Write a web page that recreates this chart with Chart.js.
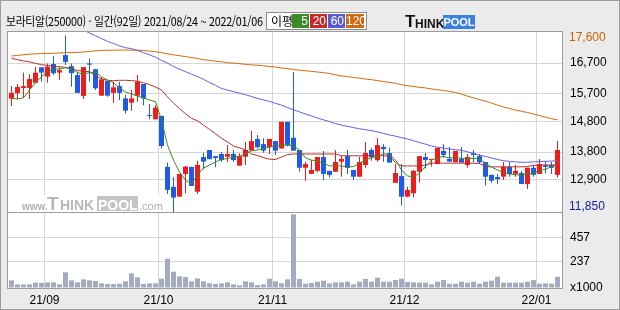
<!DOCTYPE html>
<html lang="ko">
<head>
<meta charset="utf-8">
<title>보라티알 일간 차트</title>
<script src="https://cdn.jsdelivr.net/npm/chart.js@4.4.1/dist/chart.umd.min.js"></script>
<style>
  html, body { margin: 0; padding: 0; }
  body { width: 620px; height: 310px; overflow: hidden; background: #ebebeb; }
  #wrap { position: relative; width: 620px; height: 310px; font-family: "Liberation Sans", Arial, sans-serif; }
  #outer { position: absolute; left: 0; top: 0; width: 620px; height: 310px; box-sizing: border-box; border: 1px solid #9c9c9c; }
  canvas { position: absolute; left: 0; top: 0; }
  #title { position: absolute; left: 6px; top: 14px; font: 12px "Noto Sans CJK KR", sans-serif; line-height: 14px; color: #000; white-space: nowrap; letter-spacing: -0.3px; transform: scaleX(0.9); transform-origin: 0 0; }
  #maLegend { position: absolute; left: 266px; top: 12px; width: 101px; height: 18px; box-sizing: border-box; border: 1px solid #8c8c8c; background: #fff; }
  #maLegend .lbl { position: absolute; left: 4px; top: 1px; font: 12px "Noto Sans CJK KR", sans-serif; line-height: 14px; }
  #maLegend .ma { position: absolute; top: 1px; height: 14px; width: 17px; color: #fff; font: 12px "Liberation Sans", Arial, sans-serif; line-height: 14px; text-align: right; box-sizing: border-box; padding-right: 1px; }
  #logo { position: absolute; left: 405px; top: 14px; height: 16px; width: 74px; }
  #logo .t { position: absolute; left: 0; top: 0; font: bold 17px "Liberation Sans", Arial, sans-serif; line-height: 16px; color: #111; }
  #logo .hink { position: absolute; left: 10px; top: 4px; font: bold 12px "Liberation Sans", Arial, sans-serif; line-height: 12px; color: #111; }
  #logo .pool { position: absolute; left: 38px; top: 1px; width: 32px; height: 14px; background: #3b82e0; color: #fff; font: bold 11px "Liberation Sans", Arial, sans-serif; line-height: 15px; text-align: center; }
</style>
</head>
<body>
<div id="wrap">
  <div id="outer"></div>
  <canvas id="priceChart" width="620" height="310"></canvas>
  <canvas id="volumeChart" width="620" height="310"></canvas>
  <div id="title">보라티알(250000) · 일간(92일) 2021/08/24 ~ 2022/01/06</div>
  <div id="maLegend"><span class="lbl">이평</span></div>
  <div id="logo"><span class="t">T</span><span class="hink">HINK</span><span class="pool">POOL</span></div>
</div>
<script>
"use strict";

/**************************************************************
 * Data (daily candles, 2021/08/24 ~ 2022/01/06)
 **************************************************************/
const dates = [
  "21/08/24", "21/08/25", "21/08/26", "21/08/27", "21/08/30", "21/08/31",
  "21/09/01", "21/09/02", "21/09/03", "21/09/06", "21/09/07", "21/09/08", "21/09/09", "21/09/10",
  "21/09/13", "21/09/14", "21/09/15", "21/09/16", "21/09/17", "21/09/23", "21/09/24",
  "21/09/27", "21/09/28", "21/09/29", "21/09/30",
  "21/10/01", "21/10/05", "21/10/06", "21/10/07", "21/10/08", "21/10/12", "21/10/13", "21/10/14",
  "21/10/15", "21/10/18", "21/10/19", "21/10/20", "21/10/21", "21/10/22", "21/10/25", "21/10/26",
  "21/10/27", "21/10/28", "21/10/29",
  "21/11/01", "21/11/02", "21/11/03", "21/11/04", "21/11/05", "21/11/08", "21/11/09", "21/11/10",
  "21/11/11", "21/11/12", "21/11/15", "21/11/16", "21/11/17", "21/11/18", "21/11/19", "21/11/22",
  "21/11/23", "21/11/24", "21/11/25", "21/11/26", "21/11/29", "21/11/30",
  "21/12/01", "21/12/02", "21/12/03", "21/12/06", "21/12/07", "21/12/08", "21/12/09", "21/12/10",
  "21/12/13", "21/12/14", "21/12/15", "21/12/16", "21/12/17", "21/12/20", "21/12/21", "21/12/22",
  "21/12/23", "21/12/24", "21/12/27", "21/12/28", "21/12/29", "21/12/30",
  "22/01/03", "22/01/04", "22/01/05", "22/01/06",
];

const openPrices = [
  15540, 15720, 15890, 15890, 16060, 16560, 16260, 16670, 16390, 16960,
  16600, 16310, 15630, 16690, 16500, 15640, 16120, 15730, 15950, 15550,
  15410, 15640, 16020, 15000, 14870, 14980, 13320, 12670, 12350, 13090,
  13320, 12510, 13640, 13870, 13670, 13740, 13650, 13740, 13360, 13650,
  13850, 14230, 14060, 13960, 14160, 13920, 14790, 14270, 13870, 13290,
  13090, 13190, 13640, 13190, 13160, 13490, 13670, 13220, 13000, 13380,
  13870, 13540, 13970, 13770, 12800, 13020, 12350, 12460, 13160, 13640,
  13540, 13410, 13840, 13580, 13470, 13580, 13380, 13770, 13670, 13480,
  13060, 12990, 13000, 13320, 13090, 13120, 12760, 13290, 13090, 13380,
  13380, 13060,
];

const highPrices = [
  15950, 16020, 16390, 16340, 16580, 16580, 16690, 16930, 16580, 17600,
  16690, 16420, 16570, 16850, 16500, 16240, 16120, 16090, 16090, 15660,
  15820, 16310, 16020, 15370, 15330, 14980, 13460, 12990, 13090, 13350,
  13320, 13520, 13780, 13870, 13670, 13810, 14030, 13870, 13760, 14140,
  14500, 14360, 14250, 14230, 14160, 14790, 14790, 16420, 13870, 13490,
  13540, 13640, 13840, 13190, 13870, 13670, 13870, 13220, 13650, 14130,
  13940, 14260, 14060, 13940, 13410, 13410, 12670, 13220, 13670, 13770,
  13580, 13940, 14060, 13970, 13840, 13970, 13740, 13870, 13740, 13480,
  13060, 13090, 13480, 13480, 13380, 13190, 13290, 13380, 13580, 13510,
  13480, 14160,
];

const lowPrices = [
  15300, 15520, 15570, 15530, 16040, 16090, 16060, 16310, 16150, 16640,
  15930, 15730, 15530, 16090, 15820, 15640, 15600, 15410, 15500, 15060,
  15150, 15440, 15330, 14870, 14870, 13920, 12440, 11850, 12350, 12460,
  12700, 12440, 13240, 13570, 13310, 13490, 13490, 13490, 13360, 13380,
  13850, 13920, 13780, 13740, 13710, 13920, 13980, 13850, 13160, 12870,
  13090, 13140, 12890, 12970, 13160, 13000, 13090, 12890, 13000, 13290,
  13520, 13490, 13490, 13460, 12800, 12060, 12330, 12330, 12800, 13270,
  13330, 13410, 13620, 13490, 13470, 13460, 13290, 13460, 13410, 12710,
  12800, 12760, 12890, 13000, 13000, 12760, 12600, 13000, 13090, 13110,
  13090, 12970,
];

const closePrices = [
  15730, 15920, 15950, 16180, 16390, 16390, 16580, 16370, 16470, 16740,
  16370, 15730, 16570, 16650, 15880, 16170, 15640, 15910, 15730, 15150,
  15550, 16090, 15550, 14980, 15250, 14000, 12570, 12320, 13090, 13330,
  12700, 13380, 13490, 13570, 13610, 13540, 13740, 13540, 13670, 13870,
  14160, 13960, 13850, 14230, 13850, 14790, 14030, 13850, 13290, 13410,
  13220, 13640, 13090, 13060, 13480, 13580, 13290, 13000, 13480, 13770,
  13630, 14030, 13900, 13460, 13120, 12350, 12570, 13190, 13670, 13540,
  13580, 13940, 13710, 13490, 13840, 13460, 13640, 13710, 13470, 13000,
  12870, 12920, 13320, 13090, 13190, 12760, 13290, 13060, 13410, 13320,
  13290, 13870,
];

// volume, x1000 shares
const volumes = [
  69, 33, 33, 33, 48, 45, 51, 51, 33, 141,
  69, 51, 78, 69, 63, 42, 36, 36, 39, 60,
  132, 96, 36, 42, 42, 84, 264, 147, 105, 99,
  60, 87, 60, 42, 36, 42, 51, 33, 24, 60,
  51, 27, 33, 84, 60, 42, 78, 664, 81, 39,
  45, 57, 66, 42, 51, 51, 57, 33, 57, 81,
  57, 93, 57, 57, 72, 84, 54, 51, 48, 48,
  33, 57, 72, 39, 39, 57, 48, 57, 39, 57,
  66, 102, 48, 48, 48, 48, 57, 72, 39, 42,
  39, 102,
];

const ma5 = [
  15550, 15530, 15570, 15820, 16060, 16260, 16420, 16500, 16510, 16550,
  16500, 16390, 16340, 16390, 16410, 16250, 16150, 16060, 15890, 15760,
  15690, 15630, 15560, 15500, 15440, 14850, 14030, 13540, 13150, 12890,
  12760, 13060, 13280, 13380, 13480, 13560, 13590, 13640, 13670, 13740,
  13840, 13870, 13920, 13970, 14000, 14020, 14030, 14000, 13870, 13610,
  13540, 13510, 13450, 13350, 13360, 13350, 13310, 13330, 13440, 13540,
  13620, 13670, 13740, 13740, 13540, 13220, 13020, 13000, 13110, 13330,
  13540, 13620, 13660, 13610, 13620, 13600, 13580, 13600, 13570, 13440,
  13310, 13220, 13130, 13090, 13060, 13060, 13090, 13130, 13200, 13240,
  13330, 13440,
];

const ma20 = [
  16860, 16810, 16770, 16740, 16690, 16650, 16620, 16600, 16580, 16560,
  16520, 16460, 16430, 16420, 16300, 16180, 16140, 16125, 16140, 16140,
  16130, 16110, 16060, 16000, 15920, 15820, 15600, 15400, 15220, 15050,
  14900, 14820, 14680, 14540, 14400, 14250, 14130, 14000, 13940, 13870,
  13740, 13690, 13620, 13570, 13560, 13640, 13720, 13740, 13740, 13740,
  13740, 13740, 13740, 13740, 13740, 13680, 13680, 13680, 13680, 13680,
  13680, 13680, 13680, 13670, 13460, 13350, 13350, 13350, 13350, 13380,
  13440, 13450, 13440, 13440, 13440, 13440, 13440, 13440, 13430, 13330,
  13320, 13320, 13320, 13320, 13320, 13320, 13330, 13370, 13380, 13380,
  13380, 13380,
];

// above the top of the panel before 21/09/09
const ma60 = [
  null, null, null, null, null, null, null, null, null, null,
  null, null, 17770, 17680, 17590, 17500, 17410, 17340, 17260, 17200,
  17170, 17110, 17040, 16970, 16890, 16790, 16700, 16590, 16500, 16420,
  16340, 16260, 16170, 16070, 15980, 15870, 15820, 15770, 15720, 15670,
  15610, 15550, 15500, 15450, 15390, 15330, 15250, 15180, 15110, 15040,
  14980, 14910, 14850, 14800, 14730, 14680, 14640, 14600, 14560, 14530,
  14500, 14460, 14410, 14360, 14320, 14270, 14230, 14170, 14110, 14060,
  14000, 13960, 13930, 13900, 13880, 13860, 13810, 13760, 13700, 13660,
  13610, 13560, 13520, 13500, 13480, 13470, 13470, 13480, 13490, 13500,
  13510, 13520,
];

const ma120 = [
  16930, 16950, 16970, 16990, 17000, 17010, 17015, 17020, 17030, 17040,
  17045, 17050, 17060, 17080, 17100, 17110, 17120, 17120, 17125, 17125,
  17120, 17120, 17110, 17090, 17070, 17040, 17000, 16970, 16940, 16910,
  16880, 16850, 16810, 16790, 16760, 16740, 16710, 16700, 16680, 16660,
  16640, 16630, 16610, 16590, 16570, 16540, 16520, 16490, 16470, 16450,
  16430, 16410, 16390, 16360, 16320, 16280, 16260, 16230, 16210, 16180,
  16160, 16130, 16100, 16070, 16040, 16000, 15960, 15940, 15910, 15890,
  15860, 15830, 15810, 15780, 15740, 15690, 15620, 15570, 15510, 15460,
  15400, 15330, 15270, 15220, 15170, 15130, 15090, 15040, 14990, 14940,
  14890, 14850,
];

const maPeriods = [5, 20, 60, 120];
const priceTicks = [12900, 13800, 14800, 15700, 16700];
const volumeTicks = [237, 457];
const volumeUnit = "x1000";

/**************************************************************
 * Styles
 **************************************************************/
const UP_COLOR = "#f01c1c";
const DOWN_COLOR = "#1f5ce6";
const VOLUME_COLOR = "#a3abc3";
const GRID_COLOR = "#d6d6d6";
const FRAME_COLOR = "#9c9c9c";
const MA_COLORS = ["#3c8c22", "#b8302c", "#6a5ce0", "#d06a08"];
const LEGEND_COLORS = ["#3d8b26", "#c42a2a", "#5b5bd6", "#d2690e"];
const HI_COLOR = "#c86400";
const LO_COLOR = "#1020a0";

const PRICE_MIN = 11850;
const PRICE_MAX = 17745;
const VOLUME_MAX = 685;
const X_MIN = -0.75;
const X_MAX = dates.length - 0.25;

Chart.defaults.font.family = '"Liberation Sans", Arial, sans-serif';
Chart.defaults.font.size = 12;
Chart.defaults.color = "#000";

/**************************************************************
 * Helpers
 **************************************************************/
const monthStarts = dates
  .map((d, i) => i)
  .filter((i) => i > 0 && dates[i].slice(0, 5) !== dates[i - 1].slice(0, 5));

const isUp = (i) => closePrices[i] >= openPrices[i];

const candleColor = (ctx) => (isUp(ctx.dataIndex) ? UP_COLOR : DOWN_COLOR);

function fmt(v) {
  return v.toLocaleString("en-US");
}

function lineSet(values, color) {
  return {
    type: "line",
    data: values.map((v, i) => ({ x: i, y: v })),
    borderColor: color,
    borderWidth: 1,
    pointRadius: 0,
    tension: 0,
    order: 0,
  };
}

function monthGridAxis(showLabels) {
  return {
    type: "linear",
    min: X_MIN,
    max: X_MAX,
    offset: false,
    afterBuildTicks: (scale) => {
      scale.ticks = monthStarts.map((i) => ({ value: i - 0.5 }));
    },
    afterFit: (scale) => {
      scale.height = showLabels ? 22 : 0;
    },
    ticks: {
      display: showLabels,
      autoSkip: false,
      maxRotation: 0,
      padding: 5,
      callback: (value, index) => dates[monthStarts[index]].slice(0, 5),
    },
    grid: { color: GRID_COLOR, drawTicks: false, offset: false },
    border: { display: false },
  };
}

/**************************************************************
 * Plugins
 **************************************************************/
const framePlugin = {
  id: "frame",
  beforeDraw(chart) {
    const { ctx, chartArea: a } = chart;
    ctx.save();
    ctx.fillStyle = "#ffffff";
    ctx.fillRect(a.left, a.top, a.right - a.left, a.bottom - a.top);
    ctx.restore();
  },
  afterDraw(chart) {
    const { ctx, chartArea: a } = chart;
    ctx.save();
    ctx.strokeStyle = FRAME_COLOR;
    ctx.lineWidth = 1;
    ctx.strokeRect(a.left + 0.5, a.top + 0.5, a.right - a.left, a.bottom - a.top);
    ctx.restore();
  },
};

// www.THINKPOOL.com stamp in the corner of the price panel
const watermarkPlugin = {
  id: "watermark",
  beforeDatasetsDraw(chart) {
    const { ctx, chartArea: a } = chart;
    const x = a.left + 15;
    const base = a.bottom - 2;
    ctx.save();
    ctx.fillStyle = "#ffffff";
    ctx.fillRect(x - 2, a.bottom - 17, 142, 16);
    ctx.textBaseline = "alphabetic";
    ctx.fillStyle = "#b0b0b0";
    ctx.font = 'bold 10px "Liberation Sans", Arial, sans-serif';
    ctx.fillText("www.", x, base);
    ctx.fillStyle = "#b8b8b8";
    ctx.font = 'bold 19px "Liberation Sans", Arial, sans-serif';
    ctx.fillText("T", x + 25, base);
    ctx.font = 'bold 14px "Liberation Sans", Arial, sans-serif';
    ctx.fillText("HINK", x + 38, base);
    ctx.fillStyle = "#c4c4c4";
    ctx.fillRect(x + 75, a.bottom - 16, 41, 15);
    ctx.fillStyle = "#ffffff";
    ctx.fillText("POOL", x + 76, base);
    ctx.fillStyle = "#b0b0b0";
    ctx.font = '11px "Liberation Sans", Arial, sans-serif';
    ctx.fillText(".com", x + 117, base);
    ctx.restore();
  },
};

// highest high / lowest low printed at the ends of the price axis
const hiLoPlugin = {
  id: "hiLo",
  afterDraw(chart) {
    const { ctx, chartArea: a } = chart;
    const y = chart.scales.y;
    const hi = Math.max(...highPrices);
    const lo = Math.min(...lowPrices);
    ctx.save();
    ctx.font = '12px "Liberation Sans", Arial, sans-serif';
    ctx.textAlign = "left";
    ctx.textBaseline = "middle";
    ctx.fillStyle = HI_COLOR;
    ctx.fillText(fmt(hi), a.right + 7, Math.max(y.getPixelForValue(hi), a.top + 7));
    ctx.fillStyle = LO_COLOR;
    ctx.fillText(fmt(lo), a.right + 7, Math.min(y.getPixelForValue(lo), a.bottom - 5.5));
    ctx.restore();
  },
};

/**************************************************************
 * Price chart
 **************************************************************/
const priceChart = new Chart(document.getElementById("priceChart"), {
  type: "bar",
  data: {
    datasets: [
      lineSet(ma5, MA_COLORS[0]),
      lineSet(ma20, MA_COLORS[1]),
      lineSet(ma60, MA_COLORS[2]),
      lineSet(ma120, MA_COLORS[3]),
      {
        data: dates.map((d, i) => ({ x: i, y: [openPrices[i], closePrices[i]] })),
        backgroundColor: candleColor,
        barThickness: 5,
        minBarLength: 1,
        inflateAmount: 0,
        grouped: false,
        order: 1,
      },
      {
        data: dates.map((d, i) => ({ x: i, y: [lowPrices[i], highPrices[i]] })),
        backgroundColor: candleColor,
        barThickness: 1,
        inflateAmount: 0,
        grouped: false,
        order: 2,
      },
    ],
  },
  options: {
    responsive: false,
    animation: false,
    devicePixelRatio: 1,
    events: [],
    layout: { padding: { left: 7, top: 31, right: 0, bottom: 98 } },
    plugins: { legend: { display: false }, tooltip: { enabled: false } },
    scales: {
      x: monthGridAxis(false),
      y: {
        position: "right",
        min: PRICE_MIN,
        max: PRICE_MAX,
        afterBuildTicks: (scale) => {
          scale.ticks = priceTicks.map((v) => ({ value: v }));
        },
        afterFit: (scale) => {
          scale.width = 58;
        },
        ticks: { padding: 8, callback: (v) => fmt(v) },
        grid: { color: GRID_COLOR, drawTicks: false },
        border: { display: false },
      },
    },
  },
  plugins: [framePlugin, watermarkPlugin, hiLoPlugin],
});

/**************************************************************
 * Volume chart
 **************************************************************/
const volumeChart = new Chart(document.getElementById("volumeChart"), {
  type: "bar",
  data: {
    datasets: [
      {
        data: volumes.map((v, i) => ({ x: i, y: v })),
        backgroundColor: VOLUME_COLOR,
        barThickness: 5,
        inflateAmount: 0,
      },
    ],
  },
  options: {
    responsive: false,
    animation: false,
    devicePixelRatio: 1,
    events: [],
    layout: { padding: { left: 7, top: 212, right: 0, bottom: 0 } },
    plugins: { legend: { display: false }, tooltip: { enabled: false } },
    scales: {
      x: monthGridAxis(true),
      y: {
        position: "right",
        min: 0,
        max: VOLUME_MAX,
        afterBuildTicks: (scale) => {
          scale.ticks = [0, ...volumeTicks].map((v) => ({ value: v }));
        },
        afterFit: (scale) => {
          scale.width = 58;
        },
        ticks: {
          padding: 8,
          callback: (v) => (v === 0 ? volumeUnit : String(v)),
        },
        grid: {
          color: (ctx) => (ctx.tick && ctx.tick.value === 0 ? "rgba(0,0,0,0)" : GRID_COLOR),
          drawTicks: false,
        },
        border: { display: false },
      },
    },
  },
  plugins: [framePlugin],
});

/**************************************************************
 * Moving average legend
 **************************************************************/
const legendBox = document.getElementById("maLegend");
const legendLefts = [25, 43, 61, 79];

maPeriods.forEach((p, i) => {
  const box = document.createElement("span");
  box.className = "ma";
  box.textContent = p;
  box.style.left = legendLefts[i] + "px";
  box.style.background = LEGEND_COLORS[i];
  if (i === 3) box.style.width = "18px";
  legendBox.appendChild(box);
});
</script>
</body>
</html>
